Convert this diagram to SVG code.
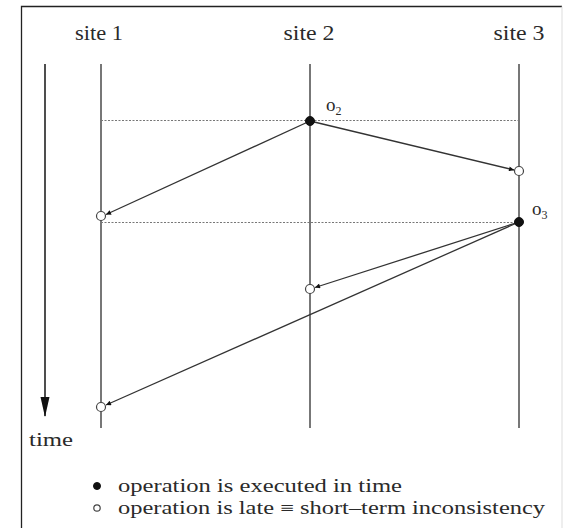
<svg xmlns="http://www.w3.org/2000/svg" width="567" height="528" viewBox="0 0 567 528">
<style>
text{font-family:"Liberation Serif","DejaVu Serif",serif;fill:#2a2a2a}
.site{stroke:#555;stroke-width:1.6}
.dot{stroke:#777;stroke-width:1.2;stroke-dasharray:2,1.5;fill:none}
.msg{stroke:#333;stroke-width:1.3;fill:none;marker-end:url(#ah)}
.full{fill:#111;stroke:#111;stroke-width:1}
.open{fill:#fff;stroke:#444;stroke-width:1.2}
</style>
<defs>
<marker id="ah" viewBox="0 0 10 10" refX="10" refY="5" markerWidth="7" markerHeight="5" orient="auto" markerUnits="userSpaceOnUse">
<path d="M0,0 L10,5 L0,10 z" fill="#111"/>
</marker>
</defs>
<rect width="567" height="528" fill="#fff"/>
<path d="M21.5,528 V6.5 H562" fill="none" stroke="#222" stroke-width="1.3"/>
<line x1="562" y1="6.5" x2="562" y2="528" stroke="#ddd" stroke-width="1"/>

<g id="site1"><text x="99" y="40" font-size="21" text-anchor="middle" textLength="48" lengthAdjust="spacingAndGlyphs">site 1</text><line class="site" x1="101" y1="64" x2="101" y2="428"/></g>
<g id="site2"><text x="309" y="40" font-size="21" text-anchor="middle" textLength="51" lengthAdjust="spacingAndGlyphs">site 2</text><line class="site" x1="310" y1="64" x2="310" y2="428"/></g>
<g id="site3"><text x="519" y="40" font-size="21" text-anchor="middle" textLength="51" lengthAdjust="spacingAndGlyphs">site 3</text><line class="site" x1="519" y1="64" x2="519" y2="428"/></g>

<g id="time"><line x1="45" y1="64" x2="45" y2="416" stroke="#222" stroke-width="1.6"/><path d="M40.5,397 L49.5,397 L45,417 z" fill="#111"/><text x="29" y="446" font-size="18" textLength="44" lengthAdjust="spacingAndGlyphs">time</text></g>

<g id="guides"><line class="dot" x1="101" y1="120.5" x2="519" y2="120.5"/><line class="dot" x1="101" y1="222.5" x2="519" y2="222.5"/></g>

<g id="connectors">
<line class="msg" x1="310" y1="121" x2="106" y2="214.5"/>
<line class="msg" x1="310" y1="121" x2="514" y2="170"/>
<line class="msg" x1="519" y1="222" x2="315" y2="287.5"/>
<line class="msg" x1="519" y1="222" x2="106" y2="405"/>
</g>

<g id="o2"><circle class="full" cx="310" cy="121" r="4.5"/><text x="326" y="111" font-size="19">o<tspan font-size="12" dy="4">2</tspan></text></g>
<g id="r23"><circle class="open" cx="519" cy="171" r="4.5"/></g>
<g id="r21"><circle class="open" cx="101" cy="216" r="4.5"/></g>
<g id="o3"><circle class="full" cx="519" cy="222" r="4.5"/><text x="532" y="215" font-size="19">o<tspan font-size="12" dy="4">3</tspan></text></g>
<g id="r32"><circle class="open" cx="310" cy="289" r="4.5"/></g>
<g id="r31"><circle class="open" cx="101" cy="407" r="4.5"/></g>

<g id="legend">
<circle class="full" cx="97" cy="486" r="3.5"/>
<text x="118" y="492" font-size="18" textLength="284" lengthAdjust="spacingAndGlyphs">operation is executed in time</text>
<circle class="open" cx="97" cy="508" r="3.2"/>
<text x="118" y="514" font-size="18" textLength="427" lengthAdjust="spacingAndGlyphs">operation is late ≡ short–term inconsistency</text>
</g>
</svg>
